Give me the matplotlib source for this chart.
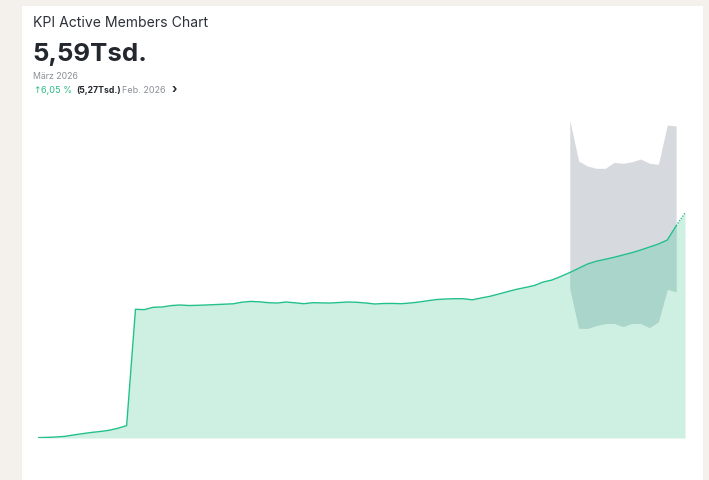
import numpy as np
import matplotlib
matplotlib.use("Agg")
import matplotlib.pyplot as plt
from matplotlib.patches import Rectangle

# ---- Data -------------------------------------------------------------------
# active members per period (last two: Feb. 2026 = 5270, März 2026 = 5590)
members = [
    10, 15, 25, 40, 75, 107, 137, 161, 191, 241, 306,
    3197, 3189, 3247, 3254, 3289, 3304, 3291, 3296, 3304, 3314,
    3324, 3333, 3373, 3393, 3383, 3361, 3353, 3378, 3358, 3336,
    3361, 3356, 3353, 3366, 3378, 3371, 3353, 3329, 3341, 3343,
    3336, 3353, 3378, 3411, 3440, 3453, 3460, 3460, 3433, 3478,
    3520, 3577, 3637, 3694, 3739, 3788, 3875, 3925, 4014, 4111,
    4215, 4322, 4392, 4439, 4489, 4546, 4603, 4670, 4744, 4819,
    4918, 5270, 5590,
]
# expected range band (periods 60..72)
band_start = 60
band_upper = [7899, 6881, 6756, 6699, 6699, 6848, 6824, 6863, 6930, 6824, 6799, 7775, 7750]
band_lower = [3719, 2725, 2725, 2795, 2844, 2847, 2770, 2849, 2844, 2745, 2889, 3694, 3634]

title = "KPI Active Members Chart"
kpi_value = "5,59Tsd."
kpi_period = "März 2026"
delta_pct = "6,05 %"
prev_value = "(5,27Tsd.)"
prev_period = "Feb. 2026"

# ---- Style ------------------------------------------------------------------
W, H = 709, 480
BG = "#f4f1ec"
LINE = "#22c08b"
FILL = "#cdf0e2"
BAND = "#d6d9de"
OVERLAP = "#a9d5ca"
DARK = "#23272e"
GREY = "#8b9096"
GREEN = "#2dbd84"
FONT = ["Inter", "DejaVu Sans"]

plt.rcParams["font.family"] = FONT

fig = plt.figure(figsize=(W / 100, H / 100), dpi=100, facecolor=BG)

# white card (behind everything)
fig.patches.append(Rectangle((22 / W, 0), (703 - 22) / W, 1 - 5.5 / H,
                             transform=fig.transFigure, facecolor="white",
                             edgecolor="none", zorder=-10))


def px(x, y):
    return x / W, 1 - y / H


# ---- Header -------------------------------------------------------------------
fig.text(*px(33, 26.7), title, fontsize=10.1, color="#2d3139", va="baseline")
fig.text(*px(32, 60.7), kpi_value, fontsize=18.6, fontweight="bold", color=DARK, va="baseline")
fig.text(*px(33, 79), kpi_period, fontsize=6.3, color=GREY, va="baseline")
fig.text(*px(33.5, 92.7), "↑", fontsize=6.5, color=GREEN, va="baseline", family=["DejaVu Sans"])
fig.text(*px(41, 92.7), delta_pct, fontsize=6.6, color=GREEN, va="baseline")
fig.text(*px(76.5, 92.7), prev_value, fontsize=6.2, fontweight="bold", color=DARK, va="baseline")
fig.text(*px(122, 92.7), prev_period, fontsize=6.5, color=GREY, va="baseline")
fig.text(*px(171.5, 92.7), "›", fontsize=9, fontweight="bold", color=DARK, va="baseline")

# ---- Chart ----------------------------------------------------------------------
ax = fig.add_axes([38 / W, (H - 438) / H, (685 - 38) / W, (438 - 110) / H])
ax.set_facecolor("none")
x = np.arange(len(members))
y = np.array(members, dtype=float)

ax.fill_between(x, 0, y, color=FILL, linewidth=0, zorder=1)

bx = x[band_start:band_start + len(band_upper)]
up = np.array(band_upper, dtype=float)
lo = np.array(band_lower, dtype=float)
ax.fill_between(bx, lo, up, color=BAND, linewidth=0, zorder=2)
ax.fill_between(bx, lo, np.minimum(y[bx], up), where=y[bx] > lo,
                color=OVERLAP, linewidth=0, zorder=3)

ax.plot(x[:-1], y[:-1], color=LINE, linewidth=1.0, zorder=4,
        solid_joinstyle="round")
ax.plot(x[-2:], y[-2:], color=LINE, linewidth=1.0, linestyle=(0, (1, 1)), zorder=4)

ax.set_xlim(0, len(members) - 1)
ax.set_ylim(0, 8148)
ax.set_axis_off()

fig.savefig("out.png", dpi=100, facecolor=BG)
